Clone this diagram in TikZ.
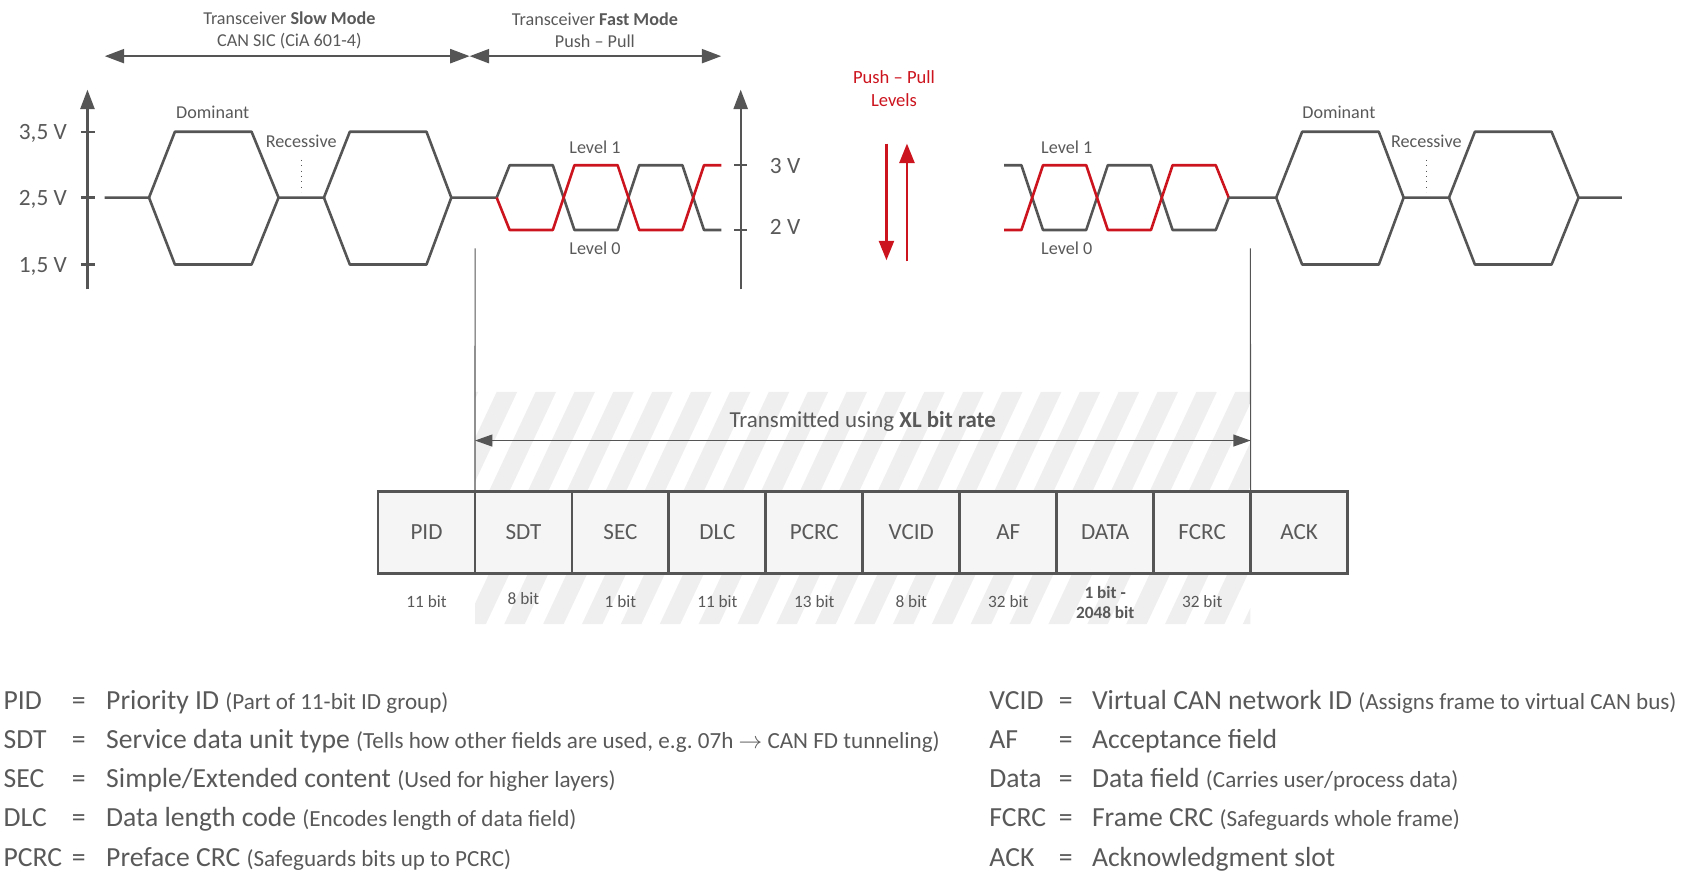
\documentclass[tikz,border=0pt]{standalone}
\usepackage{fontspec}
\setmainfont{Carlito}
\usepackage{xcolor}
\usepackage{tikz}
\usetikzlibrary{arrows.meta,positioning}
\definecolor{wavegray}{RGB}{85,85,85}
\definecolor{textgray}{RGB}{89,89,89}
\definecolor{canred}{RGB}{204,20,30}
\definecolor{fieldfill}{RGB}{245,245,245}
\definecolor{hatchgray}{RGB}{239,239,239}
\newcommand\legnote{\fontsize{10.7}{12}\selectfont}

\begin{document}
\begin{tikzpicture}[
    x=0.5pt, y=-0.5pt,
    wave/.style={wavegray, line width=1.2pt, line join=round},
    ppwave/.style={canred, line width=1.2pt, line join=round},
    axis/.style={-{Triangle[length=9pt,width=6.5pt]}, wavegray, line width=1.1pt},
    span/.style={{Triangle[length=9pt,width=6.5pt]}-{Triangle[length=9pt,width=6.5pt]}, wavegray, line width=1pt},
    xlspan/.style={{Triangle[length=8pt,width=5.5pt]}-{Triangle[length=8pt,width=5.5pt]}, wavegray, line width=0.6pt},
    redarrow/.style={-{Triangle[length=9pt,width=7pt]}, canred, line width=1pt},
    guide/.style={wavegray, line width=0.5pt},
    field/.style={draw=wavegray, line width=1.3pt, fill=fieldfill, minimum width=44.9pt, minimum height=38pt, outer sep=0pt, inner sep=0pt, text=textgray, font=\fontsize{10.7}{12}\selectfont},
    bits/.style={text=textgray, font=\fontsize{8}{9.5}\selectfont, align=center},
    modetext/.style={text=textgray, font=\fontsize{8.4}{10}\selectfont, align=center},
    lbl/.style={text=textgray, font=\fontsize{8.4}{10}\selectfont},
    volt/.style={text=textgray, font=\fontsize{10.8}{12}\selectfont},
    legabbr/.style={anchor=base west, inner sep=0pt, text=textgray, font=\fontsize{12.8}{15}\selectfont},
    legeq/.style={anchor=base, inner sep=0pt, text=textgray, font=\fontsize{12.8}{15}\selectfont},
    legterm/.style={anchor=base west, inner sep=0pt, text=textgray, font=\fontsize{12.8}{15}\selectfont}
]
    \useasboundingbox (0,0) rectangle (1568,826);

    \begin{scope}
        \clip (440,363) rectangle (1158,578);
        \foreach \k in {0,...,28}
            \fill[hatchgray] ({251+36*\k},578) -- ++(19,0) -- ++(101,-215) -- ++(-19,0) -- cycle;
    \end{scope}

    \node[modetext] (slowtxt) at (268,28) {Transceiver \textbf{Slow Mode}\\CAN SIC (CiA 601-4)};
    \node[modetext] (fasttxt) at (551,28) {Transceiver \textbf{Fast Mode}\\Push -- Pull};
    \coordinate (slowL) at (97,52);
    \coordinate (modeMid) at (435,52);
    \coordinate (fastR) at (668,52);
    \draw[span] (slowL) -- (modeMid);
    \draw[span] (modeMid) -- (fastR);

    \coordinate (axLbot) at (81,268);
    \coordinate (axLtop) at (81,83);
    \draw[axis] (axLbot) -- (axLtop);
    \foreach \v in {122,183,245}
        \draw[wavegray, line width=1.1pt] (75,\v) -- (88,\v);
    \node[volt, anchor=east] (v35) at (69,124) {3,5 V};
    \node[volt, anchor=east] (v25) at (69,185) {2,5 V};
    \node[volt, anchor=east] (v15) at (69,247) {1,5 V};

    \coordinate (axMbot) at (686,268);
    \coordinate (axMtop) at (686,83);
    \draw[axis] (axMbot) -- (axMtop);
    \foreach \v in {153,213}
        \draw[wavegray, line width=1.1pt] (680,\v) -- (692,\v);
    \node[volt, anchor=west] (v3) at (706,154) {3 V};
    \node[volt, anchor=west] (v2) at (706,210) {2 V};

    \draw[wave] (97,183) -- (138,183) -- (162,122) -- (233,122) -- (258,183) -- (300,183) -- (324,122) -- (395,122) -- (418,183) -- (460,183);
    \draw[wave] (138,183) -- (162,245) -- (233,245) -- (258,183);
    \draw[wave] (300,183) -- (324,245) -- (395,245) -- (418,183);
    \draw[wave] (460,183) -- (472,153) -- (512,153) -- (532,213) -- (572,213) -- (592,153) -- (632,153) -- (652,213) -- (668,213);
    \draw[ppwave] (460,183) -- (472,213) -- (512,213) -- (532,153) -- (572,153) -- (592,213) -- (632,213) -- (652,153) -- (668,153);
    \draw[wavegray, dotted, line width=0.5pt] (279,148) -- (279,178);
    \node[lbl] (domL) at (197,104) {Dominant};
    \node[lbl] (recL) at (279,131) {Recessive};
    \node[lbl] (lvl1L) at (551,136) {Level 1};
    \node[lbl] (lvl0L) at (551,230) {Level 0};

    \draw[wave] (930,153) -- (946,153) -- (966,213) -- (1006,213) -- (1026,153) -- (1066,153) -- (1086,213) -- (1126,213) -- (1138,183);
    \draw[ppwave] (930,213) -- (946,213) -- (966,153) -- (1006,153) -- (1026,213) -- (1066,213) -- (1086,153) -- (1126,153) -- (1138,183);
    \draw[wave] (1138,183) -- (1182,183) -- (1206,122) -- (1277,122) -- (1300,183) -- (1342,183) -- (1366,122) -- (1437,122) -- (1462,183) -- (1502,183);
    \draw[wave] (1182,183) -- (1206,245) -- (1277,245) -- (1300,183);
    \draw[wave] (1342,183) -- (1366,245) -- (1437,245) -- (1462,183);
    \draw[wavegray, dotted, line width=0.5pt] (1321,148) -- (1321,178);
    \node[lbl] (domR) at (1240,104) {Dominant};
    \node[lbl] (recR) at (1321,131) {Recessive};
    \node[lbl] (lvl1R) at (988,136) {Level 1};
    \node[lbl] (lvl0R) at (988,230) {Level 0};

    \node[modetext, text=canred, font=\fontsize{8.6}{10.5}\selectfont] (pptxt) at (828,82) {Push -- Pull\\Levels};
    \coordinate (pdTop) at (821,133);
    \coordinate (pdBot) at (821,241);
    \coordinate (puBot) at (840,242);
    \coordinate (puTop) at (840,133);
    \draw[redarrow] (pdTop) -- (pdBot);
    \draw[redarrow] (puBot) -- (puTop);

    \node[field] (pid) at (395,493) {PID};
    \foreach \fname/\ftext [remember=\fname as \prev (initially pid)] in {sdt/SDT, sec/SEC, dlc/DLC, pcrc/PCRC, vcid/VCID, af/AF, data/DATA, fcrc/FCRC, ack/ACK}
        \node[field, right=0pt of \prev] (\fname) {\ftext};

    \coordinate (xlL) at (440,230);
    \coordinate (xlR) at (1158,230);
    \draw[guide] (xlL) -- (sdt.north west);
    \draw[guide] (xlR) -- (ack.north west);
    \coordinate (xlrow) at (0,408);
    \draw[xlspan] (sdt.north west |- xlrow) -- (ack.north west |- xlrow);
    \node[text=textgray, font=\fontsize{10.6}{12}\selectfont] (xltxt) at (799,390) {Transmitted using \textbf{XL bit rate}};

    \coordinate (bitrow) at (0,557);
    \foreach \fname/\btext in {pid/11 bit, sec/1 bit, dlc/11 bit, pcrc/13 bit, vcid/8 bit, af/32 bit, fcrc/32 bit}
        \node[bits] (\fname bits) at (\fname |- bitrow) {\btext};
    \node[bits] (sdtbits) at ([yshift=1.5pt]sdt |- bitrow) {8 bit};
    \node[bits, font=\bfseries\fontsize{8}{9.5}\selectfont] (databits) at ([yshift=-0.5pt]data |- bitrow) {1 bit -\\2048 bit};

    \foreach \ab/\term/\note [count=\r from 0] in {
        PID/Priority ID/{(Part of 11-bit ID group)},
        SDT/Service data unit type/{(Tells how other fields are used, e.g.\ 07h $\rightarrow$ CAN FD tunneling)},
        SEC/{Simple/Extended content}/{(Used for higher layers)},
        DLC/Data length code/{(Encodes length of data field)},
        PCRC/Preface CRC/{(Safeguards bits up to PCRC)}}
    {
        \node[legabbr] (labl\r) at (3,{657+36.3*\r}) {\ab};
        \node[legeq] (leql\r) at (73,{657+36.3*\r}) {=};
        \node[legterm] (lterml\r) at (98,{657+36.3*\r}) {\term\ {\legnote\note}};
    }
    \foreach \ab/\term/\note [count=\r from 0] in {
        VCID/Virtual CAN network ID/{(Assigns frame to virtual CAN bus)},
        AF/Acceptance field/{},
        Data/Data field/{(Carries user/process data)},
        FCRC/Frame CRC/{(Safeguards whole frame)},
        ACK/Acknowledgment slot/{}}
    {
        \node[legabbr] (labr\r) at (916,{657+36.3*\r}) {\ab};
        \node[legeq] (leqr\r) at (987,{657+36.3*\r}) {=};
        \node[legterm] (ltermr\r) at (1011,{657+36.3*\r}) {\term\ {\legnote\note}};
    }
\end{tikzpicture}
\end{document}
